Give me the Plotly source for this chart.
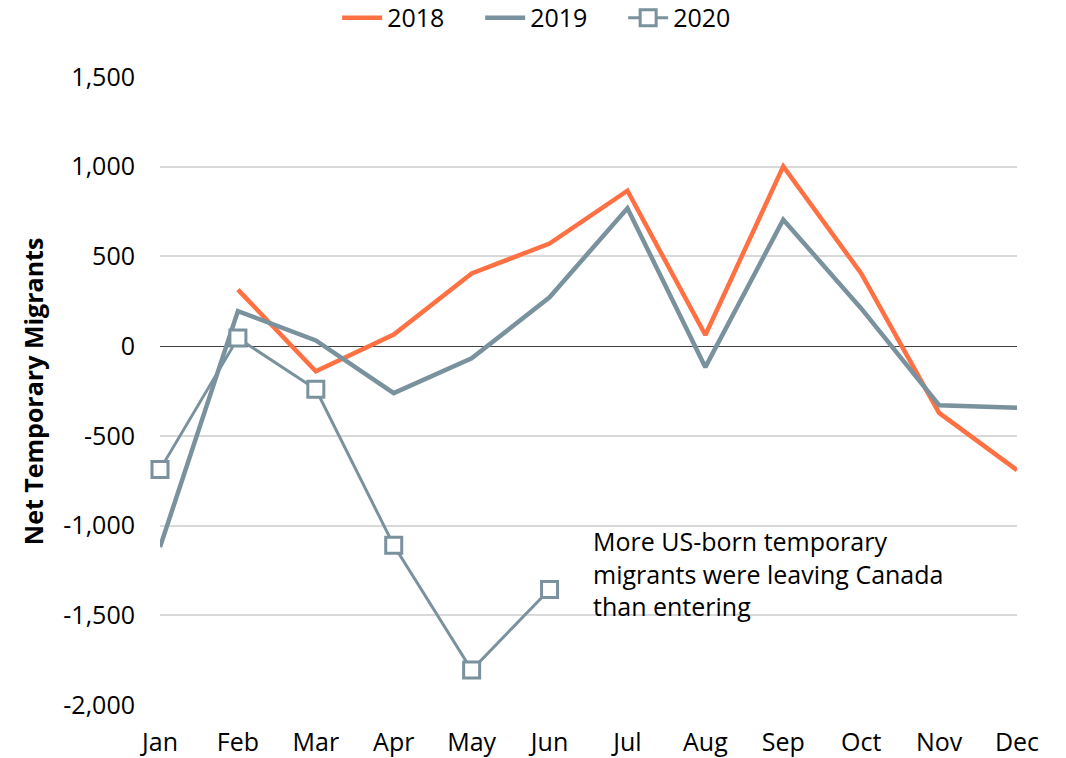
import plotly.graph_objects as go

months = ["Jan", "Feb", "Mar", "Apr", "May", "Jun", "Jul", "Aug", "Sep", "Oct", "Nov", "Dec"]
y2018 = [None, 315, -140, 65, 405, 572, 866, 62, 1002, 405, -372, -691]
y2019 = [-1120, 195, 32, -262, -68, 272, 769, -117, 705, 210, -329, -343]
y2020 = [-688, 45, -240, -1110, -1805, -1356]
yticks = [1500, 1000, 500, 0, -500, -1000, -1500, -2000]
ytick_labels = ["1,500", "1,000", "500", "0", "-500", "-1,000", "-1,500", "-2,000"]
note = "More US-born temporary<br>migrants were leaving Canada<br>than entering"

ORANGE = "#FF7043"
GRAY = "#7A929D"
FONT = "Open Sans"

fig = go.Figure()
fig.add_trace(go.Scatter(x=months, y=y2018, name="2018", mode="lines",
                         line=dict(color=ORANGE, width=4.5), cliponaxis=False))
fig.add_trace(go.Scatter(x=months, y=y2019, name="2019", mode="lines",
                         line=dict(color=GRAY, width=4.5), cliponaxis=False))
fig.add_trace(go.Scatter(x=months[:len(y2020)], y=y2020, name="2020", mode="lines+markers",
                         line=dict(color=GRAY, width=3),
                         marker=dict(symbol="square", size=16, color="white",
                                     line=dict(color=GRAY, width=3)),
                         cliponaxis=False))

fig.add_annotation(text=note, xref="x", yref="y", x=5.53, y=-1268,
                   xanchor="left", yanchor="middle", align="left", showarrow=False,
                   font=dict(family=FONT, size=25, color="black"))
fig.add_annotation(text="<b>Net Temporary Migrants</b>", xref="paper", yref="paper",
                   x=-0.148, y=0.5, textangle=-90, showarrow=False,
                   xanchor="center", yanchor="middle",
                   font=dict(family=FONT, size=25, color="black"))

fig.update_layout(
    width=1066, height=758,
    margin=dict(l=160, r=49, t=77, b=53, autoexpand=False),
    paper_bgcolor="white", plot_bgcolor="white",
    font=dict(family=FONT, size=25, color="black"),
    showlegend=True,
    legend=dict(orientation="h", x=0.457, y=1.094, xanchor="center", yanchor="middle",
                font=dict(family=FONT, size=25, color="black"), itemwidth=40,
                entrywidth=88, tracegroupgap=0),
    xaxis=dict(type="category", range=[0, 11], showgrid=False, zeroline=False,
               showline=False, ticks="", ticklabelstandoff=20,
               tickfont=dict(family=FONT, size=25, color="black")),
    yaxis=dict(range=[-2000, 1500], tickvals=yticks, ticktext=ytick_labels,
               showgrid=True, gridcolor="#D9D9D9", gridwidth=1.5,
               zeroline=True, zerolinecolor="#404040", zerolinewidth=1.2,
               showline=False, ticks="", ticklabelstandoff=24,
               tickfont=dict(family=FONT, size=25, color="black")),
)

fig.write_html("out.html", config={"displayModeBar": False},
               post_script="document.body.style.margin='0';")
